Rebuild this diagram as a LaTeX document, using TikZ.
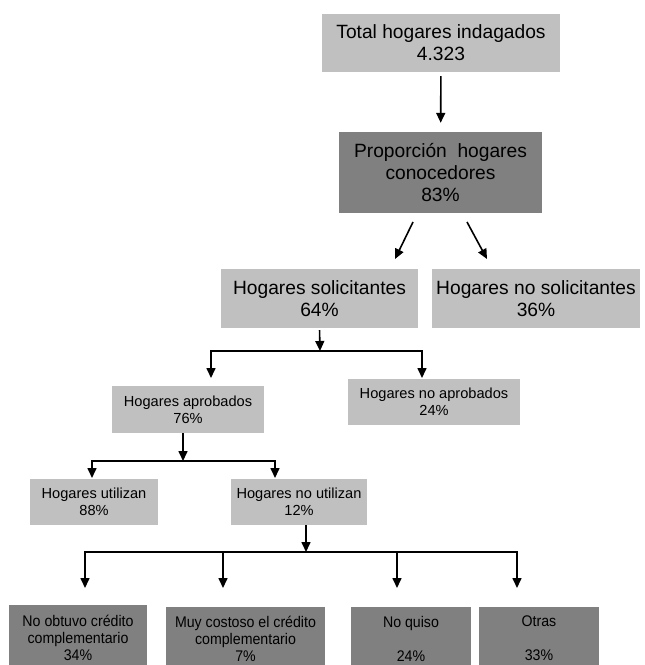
\documentclass[tikz,border=0pt]{standalone}
\usepackage{fontspec}
\setmainfont{Liberation Sans}
\newfontfamily\narrowsans[FakeStretch=0.92]{Liberation Sans}
\usetikzlibrary{arrows.meta}
\definecolor{boxlight}{HTML}{C0C0C0}
\definecolor{boxdark}{HTML}{808080}

\begin{document}
\begin{tikzpicture}[x=1pt,y=-1pt,
  box/.style={rectangle, inner sep=0pt, align=center, text=black},
  lightbox/.style={box, fill=boxlight},
  darkbox/.style={box, fill=boxdark},
  big/.style={font=\fontsize{19.2}{22}\selectfont},
  small/.style={font=\fontsize{14.6}{17}\selectfont},
  narrow/.style={font=\narrowsans\fontsize{15.4}{17}\selectfont},
  arr/.style={line width=1.6pt, -{Triangle[width=9pt,length=10pt]}},
  sz/.style 2 args={minimum width=#1pt, minimum height=#2pt}
]
\useasboundingbox (0,0) rectangle (645,665);
\clip (0,0) rectangle (645,665);

% boxes
\node[lightbox, big, sz={238}{58}] (tot) at (441,43) {Total hogares indagados\\4.323};
\node[darkbox, big, sz={203}{81}] (prop) at (440.5,172.5) {Proporción~ hogares\\conocedores\\83\%};
\node[lightbox, big, sz={197}{59}] (sol) at (319.5,298.5) {Hogares solicitantes\\64\%};
\node[lightbox, big, sz={208}{59}] (nosol) at (536,298.5) {Hogares no solicitantes\\36\%};
\node[lightbox, small, sz={152}{47}] (apr) at (188,409.5) {Hogares aprobados\\76\%};
\node[lightbox, small, sz={172}{46}] (noapr) at (434,402) {Hogares no aprobados\\24\%};
\node[lightbox, small, sz={128}{46}] (uti) at (94,502) {Hogares utilizan\\88\%};
\node[lightbox, small, sz={136}{46}] (nouti) at (299,502) {Hogares no utilizan\\12\%};

% bottom row: boxes run past the lower edge
\node[darkbox, sz={138}{60}] (r1) at (78,635) {};
\node[darkbox, sz={159}{58}] (r2) at (245.5,636) {};
\node[darkbox, sz={120}{58}] (r3) at (411,636) {};
\node[darkbox, sz={120}{58}] (r4) at (539,636) {};
\node[box, narrow] (r1t) at (78,638) {No obtuvo crédito\\complementario\\34\%};
\node[box, narrow] (r2t) at (245.5,638.5) {Muy costoso el crédito\\complementario\\7\%};
\node[box, narrow] (r3t) at (411,638.5) {No quiso\\[17pt]24\%};
\node[box, narrow] (r4t) at (539,638.5) {Otras\\[17pt]33\%};

% top arrows
\draw[arr, shorten <=4pt, shorten >=9pt] (tot) -- (prop);
\coordinate (p1) at (413,222);
\coordinate (p2) at (395,259);
\coordinate (p3) at (467,222);
\coordinate (p4) at (487,259);
\draw[arr] (p1) -- (p2);
\draw[arr] (p3) -- (p4);

% solicitantes branch
\coordinate (j1) at (320,351);
\coordinate (t1a) at (211,378);
\coordinate (t1b) at (422,378);
\draw[arr, shorten <=2pt] (sol.south) -- (j1);
\draw[arr] (j1) -| (t1a);
\draw[arr] (j1) -| (t1b);

% aprobados branch
\coordinate (j2) at (183,461);
\coordinate (t2a) at (92,478);
\coordinate (t2b) at (275,478);
\draw[arr] (apr.south -| j2) -- (j2);
\draw[arr] (j2) -| (t2a);
\draw[arr] (j2) -| (t2b);

% no utilizan branch
\coordinate (j3) at (306,552);
\coordinate (t3a) at (85,588);
\coordinate (t3b) at (223,588);
\coordinate (t3c) at (397,588);
\coordinate (t3d) at (517,588);
\draw[arr] (nouti.south -| j3) -- (j3);
\draw[arr] (j3) -| (t3a);
\draw[arr] (j3) -| (t3b);
\draw[arr] (j3) -| (t3c);
\draw[arr] (j3) -| (t3d);
\end{tikzpicture}
\end{document}
